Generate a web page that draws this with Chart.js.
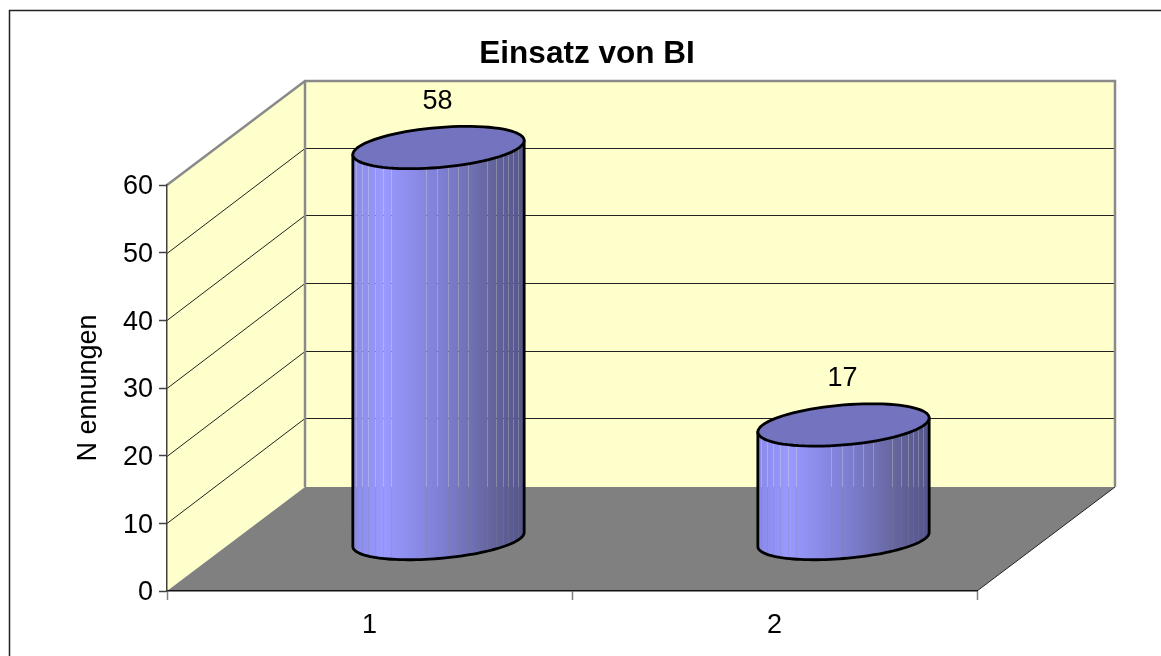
<!DOCTYPE html>
<html>
<head>
<meta charset="utf-8">
<title>Einsatz von BI</title>
<script src="https://cdn.jsdelivr.net/npm/chart.js@4/dist/chart.umd.min.js"></script>
<style>
  html, body { margin: 0; padding: 0; background: #fff; overflow: hidden; }
  canvas { display: block; }
</style>
</head>
<body>
<canvas id="chart" width="1161" height="656"></canvas>
<script>
const categories = ['1', '2'];
const values = [58, 17];
const yTicks = [0, 10, 20, 30, 40, 50, 60];
const chartTitle = 'Einsatz von BI';
const yTitle = 'N ennungen';

const FONT = '"Liberation Sans", Arial, sans-serif';
// 3D look: how far the back wall sits from the front plane
const depthX = 138;
const depthY = 104;
const titleCenter = 587;
// faint seams between the slices of the cylinder, as share of its width
const seams = [.02, .055, .09, .13, .175, .225, .425, .49, .555, .615, .67, .785, .835, .875, .905, .935, .965];

const wallsPlugin = {
  id: 'walls',
  afterLayout(chart) {
    // title is centred over the 3D box, not over the front plane
    chart.titleBlock.left = 0;
    chart.titleBlock.right = titleCenter * 2;
  },
  beforeDraw(chart) {
    const ctx = chart.ctx;
    const { left, right, top, bottom } = chart.chartArea;

    // y labels sit a little lower than the library puts them
    chart.scales.y.getLabelItems().forEach(item => { item.textOffset += 2; });

    ctx.save();
    // outer frame, runs off the page on the right and at the bottom
    ctx.strokeStyle = '#222';
    ctx.lineWidth = 1.5;
    ctx.strokeRect(9.5, 10.5, 1300, 800);

    ctx.fillStyle = '#FFFFCC';
    ctx.fillRect(left + depthX, top - depthY, right - left, bottom - top);
    poly(ctx, [[left, top], [left + depthX, top - depthY], [left + depthX, bottom - depthY], [left, bottom]]);
    ctx.fill();

    ctx.fillStyle = '#808080';
    poly(ctx, [[left, bottom], [right, bottom], [right + depthX, bottom - depthY], [left + depthX, bottom - depthY]]);
    ctx.fill();

    // grid lines on both walls
    ctx.strokeStyle = '#222';
    ctx.lineWidth = 1;
    yTicks.slice(1, -1).forEach(v => {
      const y = Math.round(chart.scales.y.getPixelForValue(v));
      ctx.beginPath();
      ctx.moveTo(left, y + 0.5);
      ctx.lineTo(left + depthX, y - depthY - 0.5);
      ctx.lineTo(right + depthX, y - depthY - 0.5);
      ctx.stroke();
    });

    // floor edge on the right
    ctx.beginPath();
    ctx.moveTo(right, bottom);
    ctx.lineTo(right + depthX, bottom - depthY);
    ctx.stroke();

    // grey wall edges
    ctx.strokeStyle = '#8a8a8a';
    ctx.lineWidth = 2.5;
    ctx.beginPath();
    ctx.moveTo(left, top);
    ctx.lineTo(left + depthX, top - depthY);
    ctx.lineTo(right + depthX, top - depthY);
    ctx.lineTo(right + depthX, bottom - depthY);
    ctx.moveTo(left + depthX, top - depthY);
    ctx.lineTo(left + depthX, bottom - depthY);
    ctx.stroke();
    ctx.restore();
  },
  afterDatasetsDraw(chart) {
    const ctx = chart.ctx;
    chart.getDatasetMeta(0).data.forEach((bar, i) => {
      const lift = depthY / 2 - 1;
      drawCylinder(ctx, bar.x + depthX / 2, bar.y - lift, bar.base - lift, bar.width / 2);
      ctx.save();
      ctx.fillStyle = '#000';
      ctx.font = '27px ' + FONT;
      ctx.textAlign = 'center';
      ctx.textBaseline = 'middle';
      ctx.fillText(values[i], bar.x + depthX / 2 - 1, bar.y - lift - 46);
      ctx.restore();
    });
  }
};

function poly(ctx, pts) {
  ctx.beginPath();
  pts.forEach((p, i) => i ? ctx.lineTo(p[0], p[1]) : ctx.moveTo(p[0], p[1]));
  ctx.closePath();
}

function drawCylinder(ctx, cx, yTop, yBase, a) {
  const shear = 7; // lifts the right end of the ellipses, lowers the left end
  const x0 = cx - a;
  const w = a * 2;
  const grad = ctx.createLinearGradient(x0, 0, x0 + w, 0);
  grad.addColorStop(0, '#8A8AEA');
  grad.addColorStop(0.18, '#9999FF');
  grad.addColorStop(0.5, '#8080D6');
  grad.addColorStop(0.8, '#66669F');
  grad.addColorStop(1, '#55558C');

  ctx.save();
  const body = new Path2D();
  body.moveTo(cx - a, yBase + shear);
  for (let i = 0; i <= 60; i++) {
    const t = Math.PI - Math.PI * i / 60;
    body.lineTo(cx + a * Math.cos(t), yBase - shear * Math.cos(t) + 19 * Math.sin(t));
  }
  body.lineTo(cx + a, yTop - shear);
  body.lineTo(cx - a, yTop + shear);
  body.closePath();

  ctx.save();
  ctx.clip(body);
  ctx.fillStyle = grad;
  let prev = 0;
  seams.concat(1).forEach(s => {
    const xa = Math.round(x0 + prev * w);
    const xb = Math.round(x0 + s * w);
    ctx.globalAlpha = 1;
    ctx.fillRect(xa, yTop - 30, xb - xa, yBase - yTop + 60);
    if (s < 1) {
      ctx.globalAlpha = 0.75;
      ctx.fillRect(xb, yTop - 30, 1, yBase - yTop + 60);
    }
    prev = (xb + 1 - x0) / w;
  });
  ctx.restore();

  ctx.strokeStyle = '#000';
  ctx.lineWidth = 2.8;
  ctx.lineJoin = 'round';
  ctx.stroke(body);

  // cap
  ctx.beginPath();
  for (let i = 0; i <= 80; i++) {
    const t = Math.PI * 2 * i / 80;
    ctx.lineTo(cx + a * Math.cos(t), yTop - shear * Math.cos(t) + 20 * Math.sin(t));
  }
  ctx.closePath();
  ctx.fillStyle = '#7373BF';
  ctx.fill();
  ctx.stroke();
  ctx.restore();
}

new Chart(document.getElementById('chart'), {
  type: 'bar',
  data: {
    labels: categories,
    datasets: [{
      data: values,
      backgroundColor: 'rgba(0,0,0,0)',
      barPercentage: 0.423,
      categoryPercentage: 1
    }]
  },
  plugins: [wallsPlugin],
  options: {
    responsive: false,
    animation: false,
    devicePixelRatio: 1,
    layout: { padding: { left: 0, right: 184, top: 0, bottom: 0 } },
    plugins: {
      legend: { display: false },
      tooltip: { enabled: false },
      title: {
        display: true,
        text: chartTitle,
        color: '#000',
        font: { family: FONT, size: 31.5, weight: 'bold', lineHeight: 1.2 },
        padding: { top: 35, bottom: 112.2 }
      }
    },
    scales: {
      x: {
        afterFit(s) { s.height = 65; },
        grid: { drawOnChartArea: false, tickLength: 9, tickColor: '#808080', tickWidth: 1.5 },
        border: { color: '#111', width: 1.5 },
        ticks: { color: '#000', padding: 9, maxRotation: 0, font: { family: FONT, size: 27 } }
      },
      y: {
        min: 0,
        max: 60,
        afterFit(s) { s.width = 167; },
        afterBuildTicks(s) { s.ticks = yTicks.map(v => ({ value: v })); },
        grid: { drawOnChartArea: false, tickLength: 8, tickColor: '#404040', tickWidth: 1.5 },
        border: { color: '#404040', width: 1.5 },
        ticks: { color: '#000', padding: 6, font: { family: FONT, size: 27 } },
        title: {
          display: true,
          text: yTitle,
          color: '#000',
          font: { family: FONT, size: 27, lineHeight: 1.2 },
          padding: { top: 72.5, bottom: 0 }
        }
      }
    }
  }
});
</script>
</body>
</html>
